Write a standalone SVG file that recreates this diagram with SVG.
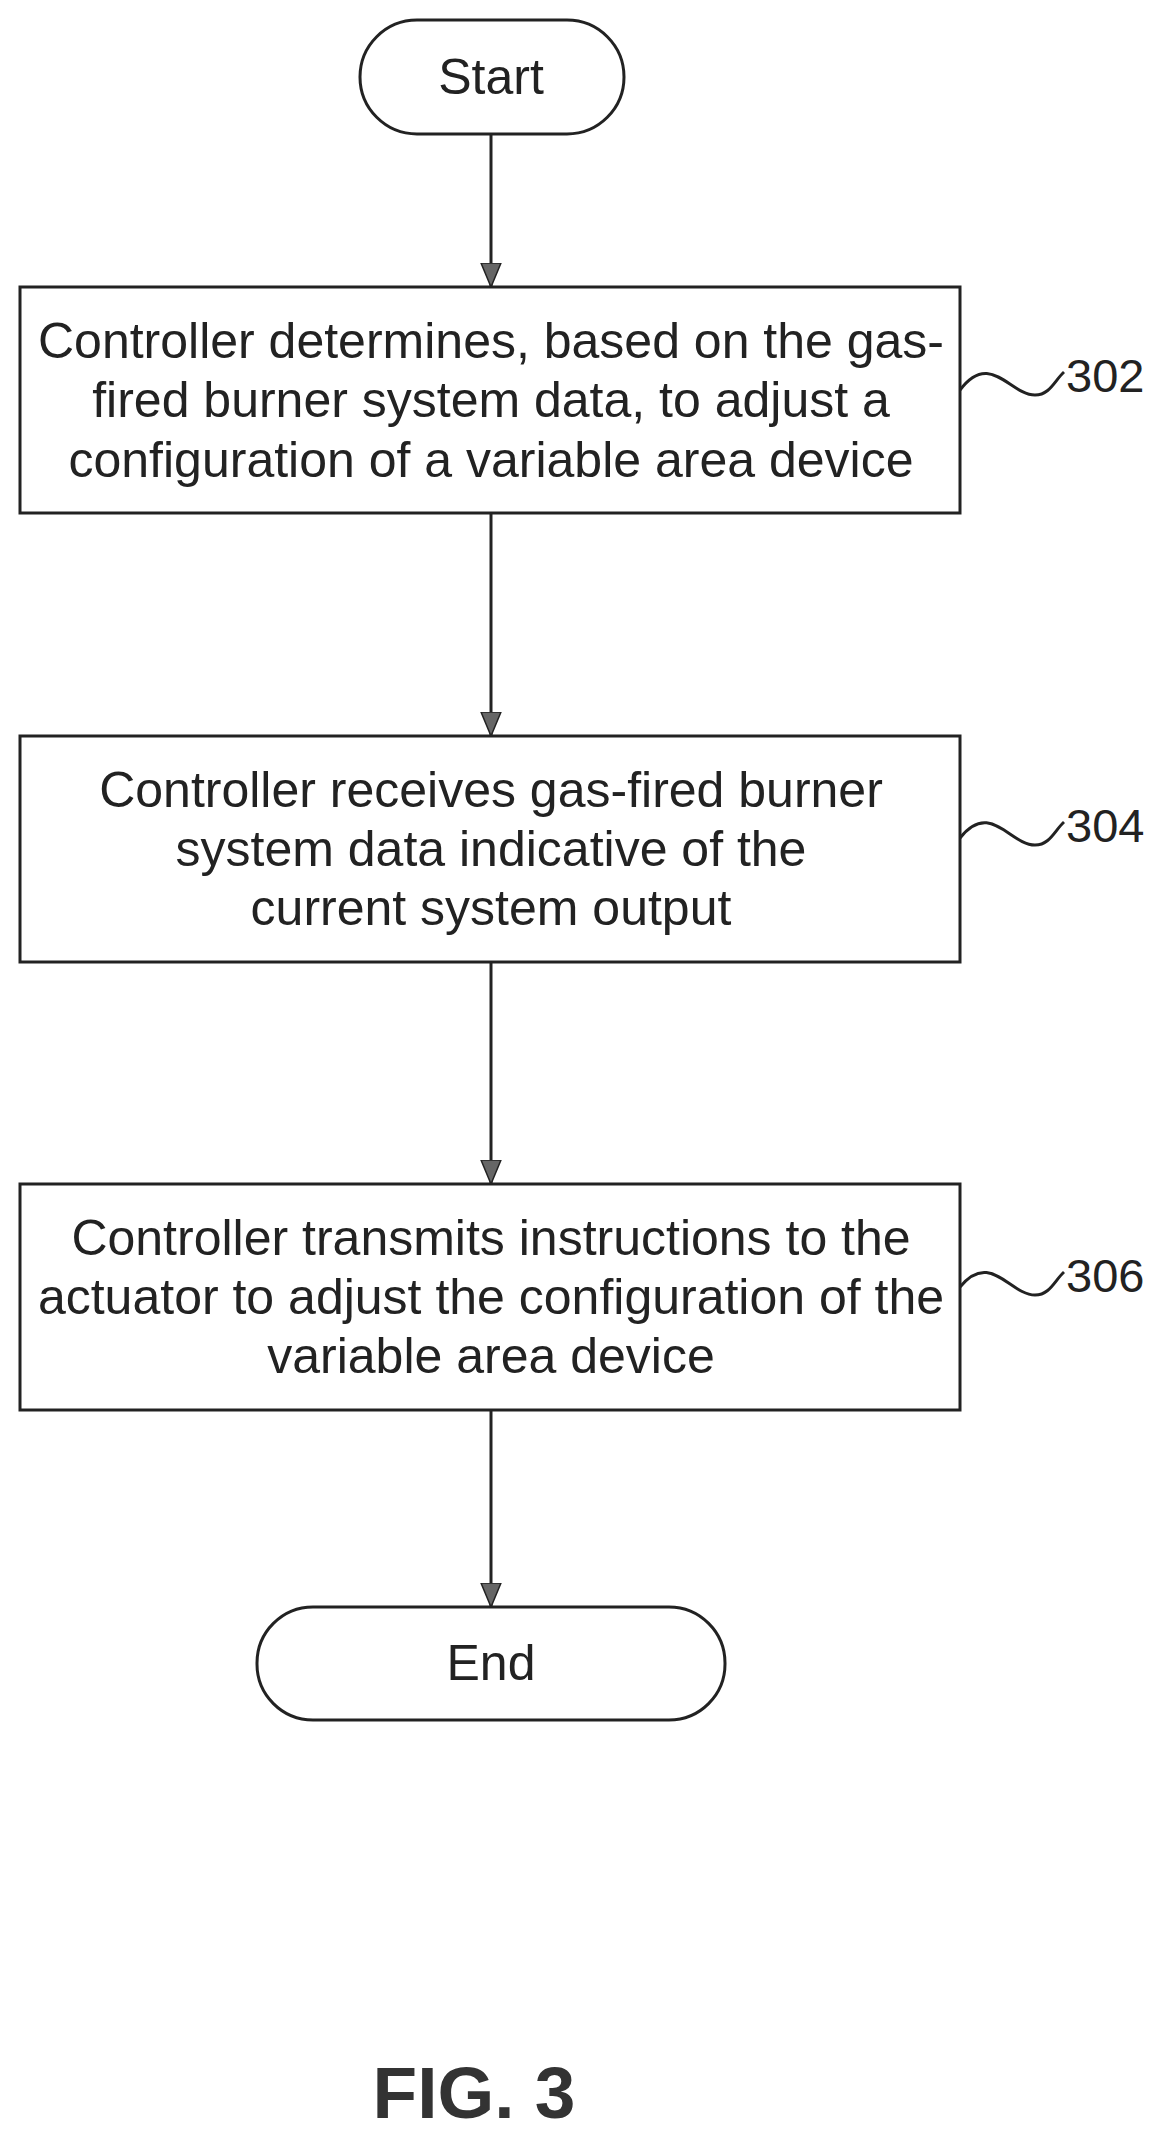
<svg xmlns="http://www.w3.org/2000/svg" width="1170" height="2144" viewBox="0 0 1170 2144">
<style>
.b{fill:#fff;stroke:#222;stroke-width:3}
.t{font-family:"Liberation Sans",Arial,sans-serif;font-size:50px;fill:#222;text-anchor:middle;dominant-baseline:central}
.l{font-family:"Liberation Sans",Arial,sans-serif;font-size:47px;fill:#222;dominant-baseline:central}
.c{fill:none;stroke:#222;stroke-width:3}
</style>
<defs>
<marker id="ah" viewBox="0 0 24 24" refX="24" refY="12" markerWidth="24" markerHeight="24" markerUnits="userSpaceOnUse" orient="auto"><path d="M0,2L24,12L0,22z" fill="#666" stroke="#222" stroke-width="1.5"/></marker></defs>
<rect width="1170" height="2144" fill="#fff"/>
<g id="connectors">
<path class="c" d="M491,134V287" marker-end="url(#ah)"/>
<path class="c" d="M491,513V736" marker-end="url(#ah)"/>
<path class="c" d="M491,962V1184" marker-end="url(#ah)"/>
<path class="c" d="M491,1410V1607" marker-end="url(#ah)"/>
<path class="c" d="M960,390C990,350 1010,395 1035,395C1050,395 1055,380 1064,372"/>
<path class="c" d="M960,838C990,800 1010,845 1035,845C1050,845 1055,830 1064,822"/>
<path class="c" d="M960,1287C990,1250 1010,1295 1035,1295C1050,1295 1055,1280 1064,1272"/>
</g>
<g id="start"><rect class="b" x="360" y="20" width="264" height="114" rx="57"/><text class="t" x="491" y="77">Start</text></g>
<g id="n302"><rect class="b" x="20" y="287" width="940" height="226"/>
<text class="t" x="491" y="341">Controller determines, based on the gas-</text>
<text class="t" x="491" y="400">fired burner system data, to adjust a</text>
<text class="t" x="491" y="460">configuration of a variable area device</text>
<text class="l" x="1066" y="375">302</text></g>
<g id="n304"><rect class="b" x="20" y="736" width="940" height="226"/>
<text class="t" x="491" y="790">Controller receives gas-fired burner</text>
<text class="t" x="491" y="849">system data indicative of the</text>
<text class="t" x="491" y="908">current system output</text>
<text class="l" x="1066" y="825">304</text></g>
<g id="n306"><rect class="b" x="20" y="1184" width="940" height="226"/>
<text class="t" x="491" y="1238">Controller transmits instructions to the</text>
<text class="t" x="491" y="1297">actuator to adjust the configuration of the</text>
<text class="t" x="491" y="1356">variable area device</text>
<text class="l" x="1066" y="1275">306</text></g>
<g id="end"><rect class="b" x="257" y="1607" width="468" height="113" rx="56"/><text class="t" x="491" y="1663">End</text></g>
<text x="474" y="2092" style="font-family:'Liberation Sans',Arial,sans-serif;font-size:73px;font-weight:bold;fill:#333;text-anchor:middle;dominant-baseline:central">FIG. 3</text>
</svg>
